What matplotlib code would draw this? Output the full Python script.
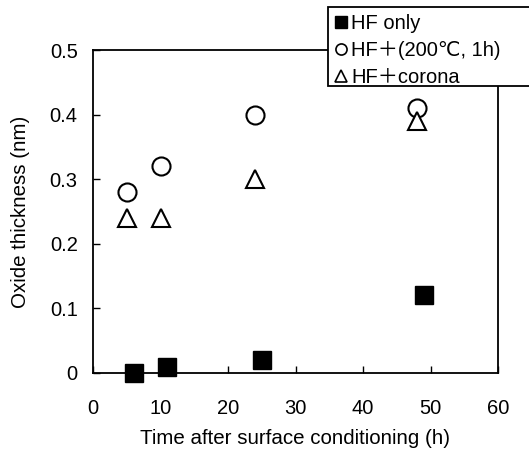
import matplotlib.pyplot as plt
from matplotlib.lines import Line2D
from matplotlib.patches import Rectangle

plt.rcParams['font.family'] = ['Liberation Sans', 'DejaVu Sans', 'Noto Sans CJK JP']

# data
t_hf = [6, 11, 25, 49]
ox_hf = [0.0, 0.01, 0.02, 0.12]

t_anneal = [5, 10, 24, 48]
ox_anneal = [0.28, 0.32, 0.40, 0.41]

t_corona = [5, 10, 24, 48]
ox_corona = [0.24, 0.24, 0.30, 0.39]

labels = ['HF only', 'HF＋(200℃, 1h)', 'HF＋corona']

fs = 14.5

fig = plt.figure(figsize=(5.29, 4.54), dpi=100)
ax = fig.add_axes([93 / 529, 1 - 373 / 454, 405 / 529, 323 / 454])

ax.plot(t_hf, ox_hf, 's', color='black', ms=13, clip_on=False, zorder=3)
ax.plot(t_anneal, ox_anneal, 'o', mfc='white', mec='black', mew=1.5, ms=13,
        clip_on=False, zorder=3)
ax.plot(t_corona, ox_corona, '^', mfc='white', mec='black', mew=1.5, ms=13,
        clip_on=False, zorder=3)

ax.set_xlim(0, 60)
ax.set_ylim(0, 0.5)
ax.set_xticks(range(0, 61, 10))
ax.set_yticks([0, 0.1, 0.2, 0.3, 0.4, 0.5])
ax.set_yticklabels(['0', '0.1', '0.2', '0.3', '0.4', '0.5'])
ax.tick_params(direction='in', length=5, width=1, labelsize=fs)
ax.tick_params(axis='x', pad=19)
ax.tick_params(axis='y', pad=11)
for s in ax.spines.values():
    s.set_linewidth(1.3)

ax.set_xlabel('Time after surface conditioning (h)', fontsize=14.8, labelpad=8)
ax.set_ylabel('Oxide thickness (nm)', fontsize=14.8, labelpad=14)

# legend box runs off the right edge of the figure
fig.patches.append(Rectangle((328 / 529, 1 - 86 / 454), 210 / 529, 79 / 454,
                             transform=fig.transFigure, fc='white', ec='black',
                             lw=1.3, zorder=5))
handles = [
    Line2D([], [], marker='s', ls='none', color='black', ms=8.5),
    Line2D([], [], marker='o', ls='none', mfc='white', mec='black', mew=1.2, ms=8),
    Line2D([], [], marker='^', ls='none', mfc='white', mec='black', mew=1.2, ms=9),
]
leg = fig.legend(handles, labels, loc='upper left', bbox_to_anchor=(331 / 529, 1 - 10 / 454),
                 frameon=False, fontsize=fs, handlelength=0.6, handletextpad=0.2,
                 borderpad=0.2, labelspacing=0.4, borderaxespad=0)
leg.set_zorder(6)

fig.savefig('out.png', dpi=100)
